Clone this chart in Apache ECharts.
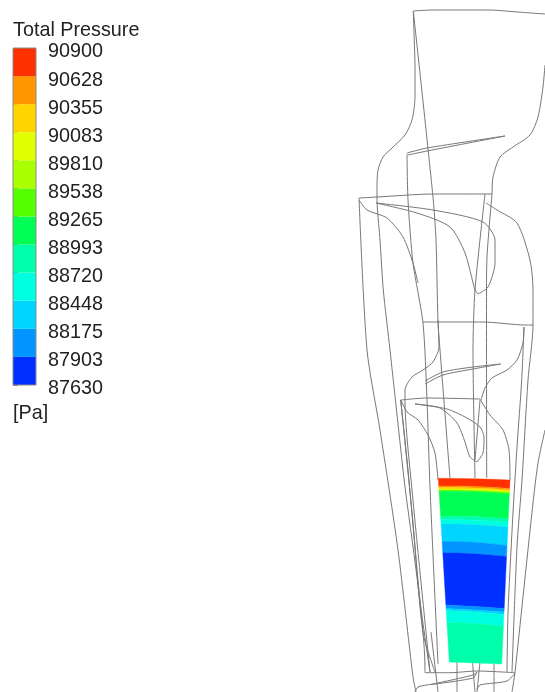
<!DOCTYPE html>
<html><head><meta charset="utf-8">
<style>html,body{margin:0;padding:0;background:#fff}#c{width:545px;height:692px;filter:blur(0.35px)}</style>
<script src="https://cdn.jsdelivr.net/npm/echarts@6/dist/echarts.min.js"></script>
</head><body><div id="c"></div>
<script>
// Legend
const legendTitle = 'Total Pressure';
const legendUnit = '[Pa]';
const tickLabels = ['87630','87903','88175','88448','88720','88993','89265','89538','89810','90083','90355','90628','90900'];
const levelColors = ['#0030ff','#0095ff','#00d5ff','#00ffe0','#00ffaa','#00ff55','#55ff00','#aaff00','#e0ff00','#ffd500','#ff9500','#ff3000'];

// Contour face corners in view units
const faceLeft = [[438.3,478.3],[449.3,662]];
const faceRight = [[510,480],[501.7,664]];
// Contour boundaries from top to bottom: y at left, quarter, middle, three-quarter, right of the face
const contourEdges = [
 [478.3,478.4,478.8,479.3,480],[486,486,486.4,487.2,488.5],[487.5,487.6,488,488.8,490],[489,489.1,489.5,490.3,491.5],[490,490.1,490.5,491.3,492.5],[491.5,491.6,492,492.8,494],
 [516.5,516.3,516.6,517.4,518.5],[519.5,519.6,520.2,521,522],[524,524.1,524.7,525.7,527],[541.5,541.6,542.3,543.7,545.5],[553,553.1,553.8,555,556.5],[605,605.8,606.6,607.5,608.5],
 [608.5,609.2,610,611,612],[610.5,611.2,612,613.2,614.5],[622.5,623,623.7,624.8,626],[662,662.5,663,663.5,664]];
// Level index of each band between consecutive boundaries
const bandLevels = [11,10,9,8,6,5,4,3,2,1,0,1,2,3,4];

// Wireframe traces in view units
const wireTop = [[413.3,11],[433,10],[490,10],[517,12],[545,14]];
const wireUpperLeft = [[413.3,11],[414,33],[415,67],[415,97],[412,120],[405,135],[392,148],[383,157],[378,170],[377,187],[377.3,207],[380,240],[383.3,290],[390,350],[403,470],[425,670],[425,672.7]];
const wireUpperRight = [[545,65],[543,87],[538,117],[530,135],[513,147],[500,157],[493,177],[492,194],[490,217],[487,257],[486.5,290],[486.5,350],[486.7,478]];
const wireRightInner = [[485,194],[475,290],[473,350],[475,478]];
const wireDiagonal = [[413.3,11],[433,197],[436,240],[438,322],[440,350],[450,478]];
const wireBlade1Top = [[407,153],[427,148],[505,136]];
const wireBlade1Bot = [[408,155],[427,151],[505,136]];
const wireDark = [[407,154],[408,200],[413,263],[423,323],[427,400],[430,487],[438,664]];
const wireBox1Top = [[359,198],[377,197],[433,194],[492,194]];
const wireBox1Left = [[359,198],[367,350],[380,430],[398,550],[413,677],[416,692]];
const wireBox1Curve = [[359,200],[367,210],[387,218],[403,237],[413,263],[418,283]];
const wireBox1Right = [[486,203],[497,210],[517,223],[530,260],[533,290],[533,325],[528,380],[522,480],[517,547],[512,672]];
const wireBlade1Suction = [[376,203],[433,210],[483,222],[495,240],[495,263],[488,287],[478,294]];
const wireBlade1Pressure = [[376,203],[417,213],[450,227],[465,253],[475,290],[478,294]];
const wireStage2Top = [[423,322],[438,322],[483,322],[525,325],[533,325]];
const wireStage2Right = [[524,327],[523,343],[517,360],[507,370],[492,378],[485,388],[481,400]];
const wireStage2Left = [[438,320],[439,347],[433,362],[423,370],[412,377],[405,390],[405,402],[412,490],[430,672]];
const wireBlade2Top = [[425,381],[443,372],[473,367],[500.7,364]];
const wireBlade2Bot = [[425,384],[443,375],[473,369],[500.7,364]];
const wireBox2Top = [[400.7,400],[427,398],[480,399]];
const wireBox2Left = [[400.7,400],[413,523],[423,633],[435,672]];
const wireBox2Left2 = [[400.7,400],[408,470],[420,600],[430,672]];
const wireBox2Curve = [[401,400],[407,412],[418,420],[428,435],[435,453],[438,480]];
const wireBox2Right = [[480,399],[490,415],[503,430],[509,450],[510,480]];
const wireBox2Hub = [[480,400],[475,460]];
const wireBlade3Suction = [[415,404],[447,409],[467,418],[480,427],[484,437],[483,453],[477,462]];
const wireBlade3Pressure = [[415,404],[440,408],[457,423],[465,442],[470,457],[477,462]];
const wireOuterA = [[524,327],[521.7,380],[517,447],[513,513],[508,613],[507,672]];
const wireOuterC = [[545,430],[538,463],[533,503],[523,597],[515,672],[512,692]];
const wireBottom = [[425,672.7],[450,672.7],[477,671],[515,672.7]];
const wireHubA = [[415,692],[418,687],[433,684],[473,675],[477,672]];
const wireHubB = [[431,684.5],[473,678],[477,672]];
const wireHubC = [[477,690],[480,685],[507,681],[515,673]];
const wireStemA = [[457,662],[457,692]];
const wireStemB = [[472.5,662],[475,692]];
const wireStemC = [[480,662],[477,692]];
const wireStemD = [[494,664],[494,692]];
const wireStemE = [[431,632],[438,692]];

const wires = [wireTop,wireUpperLeft,wireUpperRight,wireRightInner,wireDiagonal,wireBlade1Top,wireBlade1Bot,wireDark,
 wireBox1Top,wireBox1Left,wireBox1Curve,wireBox1Right,wireBlade1Suction,wireBlade1Pressure,wireStage2Top,wireStage2Right,
 wireStage2Left,wireBlade2Top,wireBlade2Bot,wireBox2Top,wireBox2Left,wireBox2Left2,wireBox2Curve,wireBox2Right,wireBox2Hub,
 wireBlade3Suction,wireBlade3Pressure,wireOuterA,wireOuterC,wireBottom,wireHubA,wireHubB,wireHubC,
 wireStemA,wireStemB,wireStemC,wireStemD,wireStemE];

function edgeX(edge, y){ const t=(y-edge[0][1])/(edge[1][1]-edge[0][1]); return edge[0][0]+t*(edge[1][0]-edge[0][0]); }
function edgePoints(row){
  const n=row.length-1, l=edgeX(faceLeft,row[0]), r=edgeX(faceRight,row[n]);
  return row.map((y,i)=>[l+(r-l)*i/n,y]);
}

const font = '"Liberation Sans", Arial, sans-serif';
const chart = echarts.init(document.getElementById('c'),null,{renderer:'canvas'});
chart.setOption({
  animation:false,
  backgroundColor:'#fff',
  title:[
    {text:legendTitle,left:13,top:21,padding:0,textStyle:{fontFamily:font,fontSize:19.8,fontWeight:'normal',color:'#222'}},
    {text:legendUnit,left:13,top:404,padding:0,textStyle:{fontFamily:font,fontSize:19.8,fontWeight:'normal',color:'#222'}}
  ],
  grid:[
    {left:0,top:0,right:0,bottom:0},
    {left:13,top:48,width:23,height:337,show:true,z:10,backgroundColor:'transparent',borderColor:'#8a8a8a',borderWidth:1}
  ],
  xAxis:[
    {gridIndex:0,type:'value',min:0,max:545,show:false},
    {gridIndex:1,type:'value',min:0,max:1,show:false}
  ],
  yAxis:[
    {gridIndex:0,type:'value',min:0,max:692,inverse:true,show:false},
    {gridIndex:1,type:'category',data:tickLabels,boundaryGap:false,position:'right',
     axisLine:{show:false},axisTick:{show:true,length:5,alignWithLabel:true,lineStyle:{color:'#808080',width:1}},
     axisLabel:{show:true,interval:0,margin:12,verticalAlign:'top',lineHeight:8,fontFamily:font,fontSize:19.8,color:'#222'}}
  ],
  series:[
    ...wires.map(w=>({type:'line',xAxisIndex:0,yAxisIndex:0,data:w,smooth:0.25,showSymbol:false,silent:true,clip:false,z:1,
      lineStyle:{color:'#777777',width:1}})),
    {type:'custom',xAxisIndex:0,yAxisIndex:0,z:3,silent:true,clip:false,
     data:bandLevels.map((lv,i)=>[i,lv]),
     renderItem(params,api){
       const i=api.value(0), c=levelColors[api.value(1)];
       const up=edgePoints(contourEdges[i]), dn=edgePoints(contourEdges[i+1]).reverse();
       return {type:'polygon',shape:{points:up.concat(dn).map(p=>api.coord(p))},
               style:{fill:c,stroke:c,lineWidth:0.4}};
     }},
    {type:'custom',xAxisIndex:1,yAxisIndex:1,z:3,silent:true,
     data:levelColors.map((c,i)=>[i]),
     renderItem(params,api){
       const i=api.value(0);
       const a=api.coord([0,i]), b=api.coord([1,i+1]);
       return {type:'rect',shape:{x:a[0],y:b[1],width:b[0]-a[0],height:a[1]-b[1]},
               style:{fill:levelColors[i]}};
     }}
  ]
});
</script></body></html>
